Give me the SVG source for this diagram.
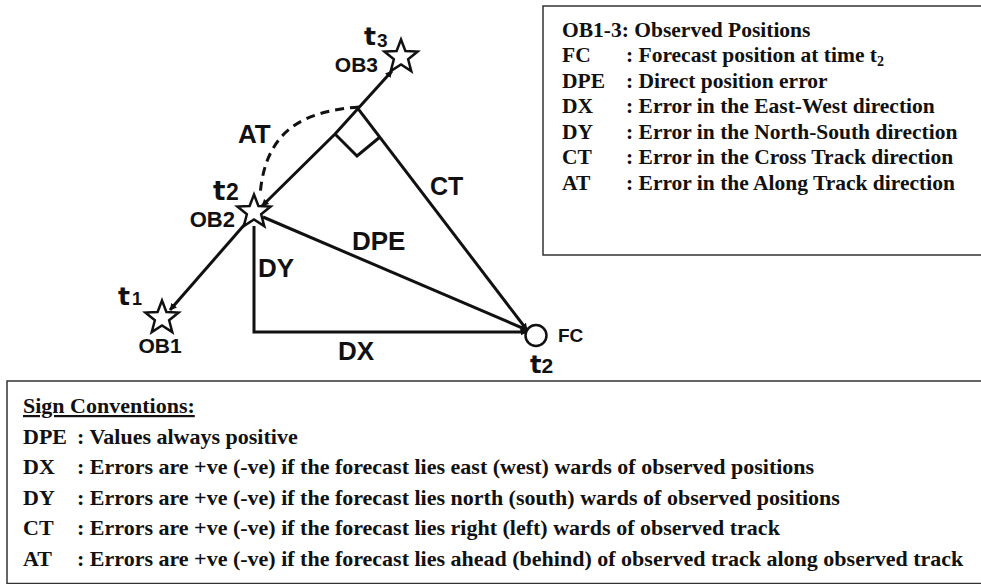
<svg xmlns="http://www.w3.org/2000/svg" width="981" height="584" viewBox="0 0 981 584">
<style>
.ln{stroke:#111;stroke-width:3;fill:none;stroke-linecap:butt;stroke-linejoin:miter}
.dash{stroke:#111;stroke-width:3;fill:none;stroke-dasharray:9 6}
.star{fill:#fff;stroke:#111;stroke-width:2.5;stroke-linejoin:miter}
.lb{font-family:"Liberation Sans",Arial,sans-serif;font-weight:bold;fill:#111}
.tt{font-family:"DejaVu Sans","Liberation Sans",sans-serif;font-weight:bold}
.tb{font-family:"Liberation Serif","Times New Roman",serif;font-weight:bold;fill:#111}
.t1{font-size:21.5px}
.t2{font-size:22px}
.box{fill:#fff;stroke:#333;stroke-width:1.5}
</style>
<defs>
<polygon id="starshape" points="0,-17.5 4.41,-6.07 16.64,-5.41 7.13,2.32 10.29,14.16 0,7.5 -10.29,14.16 -7.13,2.32 -16.64,-5.41 -4.41,-6.07"/>
<marker id="ah" viewBox="0 0 10 10" refX="9" refY="5" markerWidth="2.4" markerHeight="2.4" orient="auto-start-reverse" markerUnits="strokeWidth">
<path d="M0,0 L10,5 L0,10 z" fill="#111"/>
</marker>
</defs>
<rect x="0" y="0" width="981" height="584" fill="#fff"/>

<g id="legend">
<rect class="box" x="543" y="6" width="460" height="249"/>
<text class="tb t1" x="562" y="36.5">OB1-3: Observed Positions</text>
<text class="tb t1" x="562" y="62">FC</text>
<text class="tb t1" x="626" y="62">: Forecast position at time t<tspan font-size="14" dy="4">2</tspan></text>
<text class="tb t1" x="562" y="87.5">DPE</text>
<text class="tb t1" x="626" y="87.5">: Direct position error</text>
<text class="tb t1" x="562" y="113">DX</text>
<text class="tb t1" x="626" y="113">: Error in the East-West direction</text>
<text class="tb t1" x="562" y="138.5">DY</text>
<text class="tb t1" x="626" y="138.5">: Error in the North-South direction</text>
<text class="tb t1" x="562" y="164">CT</text>
<text class="tb t1" x="626" y="164">: Error in the Cross Track direction</text>
<text class="tb t1" x="562" y="189.5">AT</text>
<text class="tb t1" x="626" y="189.5">: Error in the Along Track direction</text>
</g>

<g id="conventions">
<rect class="box" x="7" y="381" width="1000" height="202.5"/>
<text class="tb t2" x="23" y="413" text-decoration="underline">Sign Conventions:</text>
<text class="tb t2" x="23" y="443.5">DPE</text>
<text class="tb t2" x="77" y="443.5">: Values always positive</text>
<text class="tb t2" x="23" y="474">DX</text>
<text class="tb t2" x="77" y="474">: Errors are +ve (-ve) if the forecast lies east (west) wards of observed positions</text>
<text class="tb t2" x="23" y="504.5">DY</text>
<text class="tb t2" x="77" y="504.5">: Errors are +ve (-ve) if the forecast lies north (south) wards of observed positions</text>
<text class="tb t2" x="23" y="535">CT</text>
<text class="tb t2" x="77" y="535">: Errors are +ve (-ve) if the forecast lies right (left) wards of observed track</text>
<text class="tb t2" x="23" y="565.5">AT</text>
<text class="tb t2" x="77" y="565.5">: Errors are +ve (-ve) if the forecast lies ahead (behind) of observed track along observed track</text>
</g>

<g id="ob1">
<use href="#starshape" class="star" transform="translate(162,318)"/>
<text class="lb" y="305"><tspan class="tt" x="118" font-size="25">t</tspan><tspan x="132" font-size="18">1</tspan></text>
<text class="lb" font-size="21" x="160" y="353" text-anchor="middle">OB1</text>
</g>

<g id="ob2">
<use href="#starshape" class="star" transform="translate(254,212)"/>
<text class="lb" y="200"><tspan class="tt" x="213" font-size="26">t</tspan><tspan x="226" font-size="23">2</tspan></text>
<text class="lb" font-size="22" x="235" y="227" text-anchor="end">OB2</text>
</g>

<g id="ob3">
<use href="#starshape" class="star" transform="translate(401,57)"/>
<text class="lb" y="45"><tspan class="tt" x="364" font-size="25">t</tspan><tspan x="377" y="47" font-size="19">3</tspan></text>
<text class="lb" font-size="21" x="378" y="72" text-anchor="end">OB3</text>
</g>

<g id="fc">
<circle cx="536" cy="335.5" r="10.5" fill="none" stroke="#111" stroke-width="2.5"/>
<text class="lb" font-size="19" x="558" y="342">FC</text>
<text class="lb" y="373"><tspan class="tt" x="530" font-size="24">t</tspan><tspan x="541.5" font-size="21">2</tspan></text>
</g>

<g id="connectors">
<path class="ln" d="M262,206 L335,134 L392,71" marker-start="url(#ah)" marker-end="url(#ah)"/>
<path class="ln" d="M245,224 L170,310" marker-end="url(#ah)"/>
<path class="ln" d="M254,226 L254,332 L527,332" marker-end="url(#ah)"/>
<path class="ln" d="M263,217 L527,330" marker-end="url(#ah)"/>
<path class="ln" d="M358,108.6 L527,330" marker-end="url(#ah)"/>
<path class="ln" d="M335,134 L357,156 L380,137"/>
<path class="dash" d="M359,107 C310,111 265,125 260,196"/>
</g>

<g id="edge-labels">
<text class="lb" font-size="26" x="238" y="143">AT</text>
<text class="lb" font-size="25" x="430" y="195">CT</text>
<text class="lb" font-size="26" x="352" y="250">DPE</text>
<text class="lb" font-size="26" x="258" y="277">DY</text>
<text class="lb" font-size="26" x="338" y="360">DX</text>
</g>
</svg>
